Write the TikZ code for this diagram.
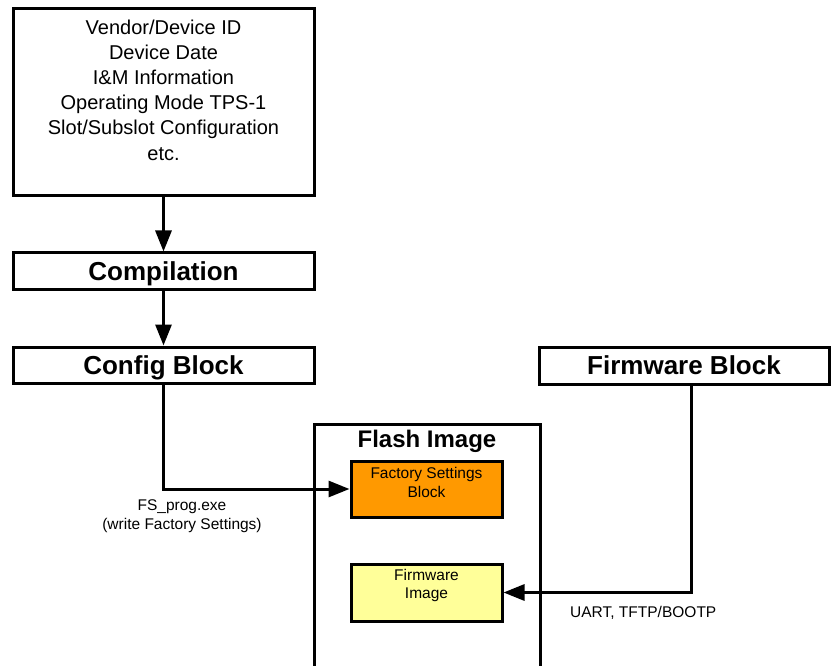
\documentclass[tikz,border=0pt]{standalone}
\usepackage{fontspec}
\setmainfont{Liberation Sans}
\usetikzlibrary{arrows.meta}
\definecolor{fsorange}{HTML}{FF9900}
\definecolor{fwyellow}{HTML}{FFFF99}
\tikzset{
  box/.style={draw=black, line width=3pt, rectangle, inner sep=0pt},
  hdr/.style={font=\fontsize{26}{30}\selectfont\bfseries, text height=18.6pt, text depth=0pt},
  arr/.style={line width=3pt, -{Triangle[length=21pt,width=16pt]}},
  line/.style={line width=3pt},
  small/.style={font=\fontsize{15.5}{18.5}\selectfont, align=center, inner sep=0pt},
}
\begin{document}
\begin{tikzpicture}[x=1pt,y=-1pt]
\useasboundingbox (0,0) rectangle (831,666);
% top specification box
\node[box, minimum width=301pt, minimum height=187pt] (spec) at (163.5,102.5) {};
\node[align=center, inner sep=0pt, font=\fontsize{20}{25.2}\selectfont] (spectext) at (163.5,90) {Vendor/Device ID\\Device Date\\I\&M Information\\Operating Mode TPS-1\\Slot/Subslot Configuration\\etc.};
\node[box, hdr, minimum width=301pt, minimum height=36pt] (comp) at (163.5,271) {Compilation};
\node[box, hdr, minimum width=301pt, minimum height=36pt] (cfg) at (163.5,365) {Config Block};
\node[box, hdr, minimum width=290pt, minimum height=37pt] (fwb) at (684,365.5) {Firmware Block};
% flash image (open at bottom)
\draw[line] (314,667) -- (314,424) -- (540,424) -- (540,667);
\node[font=\fontsize{24}{28}\selectfont\bfseries, inner sep=0pt, text height=17.2pt, text depth=0pt] (flash) at (427,439) {Flash Image};
\node[box, fill=fsorange, minimum width=151pt, minimum height=56pt] (fsb) at (426.5,489) {};
\node[small] (fsbtext) at (426.5,482.5) {Factory Settings\\Block};
\node[box, fill=fwyellow, minimum width=151pt, minimum height=57pt] (fwi) at (426.5,592.5) {};
\node[small] (fwitext) at (426.5,585.5) {Firmware\\Image};
% connectors
\draw[arr] (spec.south) -- (comp.north);
\draw[arr] (comp.south) -- (cfg.north);
\draw[arr] (cfg.south) |- (fsb.west);
\draw[arr] ([xshift=7pt]fwb.south) |- (fwi.east);
% labels
\node[small, font=\fontsize{15.5}{19}\selectfont] (fslbl) at (182,516.5) {FS\_prog.exe\\(write Factory Settings)};
\node[small, anchor=west] (uartlbl) at (570,613) {UART, TFTP/BOOTP};
\end{tikzpicture}
\end{document}
